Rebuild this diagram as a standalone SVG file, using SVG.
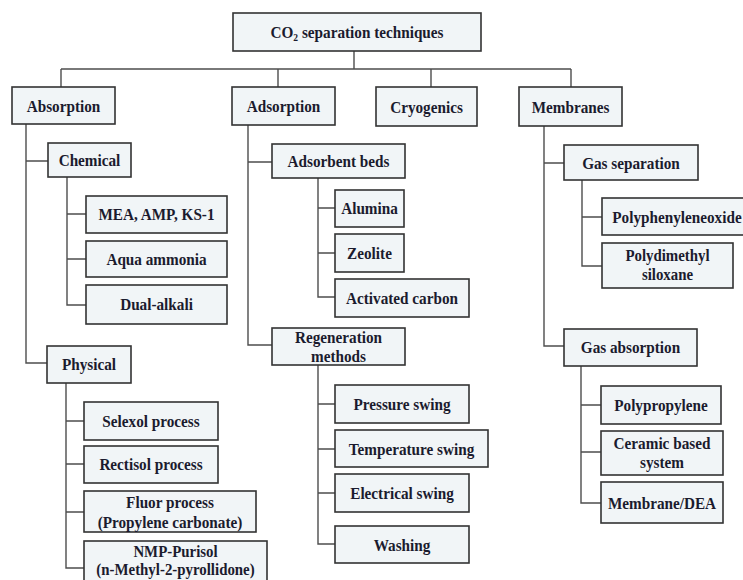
<svg xmlns="http://www.w3.org/2000/svg" width="743" height="580" viewBox="0 0 743 580">
<style>
.b{fill:#f1f5f7;stroke:#333;stroke-width:1.6}
.t{font-family:"Liberation Serif","Times New Roman",serif;font-weight:bold;font-size:17.5px;fill:#1b1b2e;text-anchor:middle}
.s{font-size:16px}
.c{fill:none;stroke:#4d4d4d;stroke-width:1.4}
</style>
<rect width="743" height="580" fill="#fff"/>
<g id="connectors" class="c">
<path d="M354 51V69M61 69H571M61 69V87M278 69V87M431 69V87M571 69V87"/>
<path d="M26 124V363H47M26 161H48"/>
<path d="M67 177V305H86M67 214H86M67 259H86"/>
<path d="M66 383V568H84M66 421H84M66 464H84M66 512H84"/>
<path d="M248 125V345H272M248 162H272"/>
<path d="M318 178V297H335M318 208H335M318 253H335"/>
<path d="M318 365V544H335M318 404H335M318 449H335M318 493H335"/>
<path d="M544 126V346H564M544 163H564"/>
<path d="M582 180V266H602M582 217H602"/>
<path d="M581 366V503H601M581 405H601M581 452H601"/>
</g>
<g id="root"><rect class="b" x="233" y="13" width="248" height="38"/><text class="t" transform="translate(357 38) scale(.87 1)">CO<tspan font-size="11" dy="3">2</tspan><tspan dy="-3"> separation techniques</tspan></text></g>
<g id="absorption"><rect class="b" x="12" y="87" width="103" height="37"/><text class="t" transform="translate(63.5 112) scale(.87 1)">Absorption</text></g>
<g id="adsorption"><rect class="b" x="232" y="87" width="103" height="38"/><text class="t" transform="translate(283.5 112) scale(.87 1)">Adsorption</text></g>
<g id="cryogenics"><rect class="b" x="376" y="87" width="101" height="39"/><text class="t" transform="translate(426.5 113) scale(.87 1)">Cryogenics</text></g>
<g id="membranes"><rect class="b" x="519" y="87" width="103" height="39"/><text class="t" transform="translate(570.5 113) scale(.87 1)">Membranes</text></g>
<g id="chemical"><rect class="b" x="48" y="143" width="83" height="34"/><text class="t" transform="translate(89.5 166) scale(.87 1)">Chemical</text></g>
<g id="mea"><rect class="b" x="86" y="196" width="141" height="37"/><text class="t" transform="translate(156.5 220) scale(.87 1)">MEA, AMP, KS-1</text></g>
<g id="aqua"><rect class="b" x="86" y="241" width="141" height="36"/><text class="t" transform="translate(156.5 265) scale(.87 1)">Aqua ammonia</text></g>
<g id="dual"><rect class="b" x="86" y="285" width="141" height="39"/><text class="t" transform="translate(156.5 310) scale(.87 1)">Dual-alkali</text></g>
<g id="physical"><rect class="b" x="47" y="346" width="84" height="37"/><text class="t" transform="translate(89 370) scale(.87 1)">Physical</text></g>
<g id="selexol"><rect class="b" x="84" y="402" width="134" height="38"/><text class="t" transform="translate(151 427) scale(.87 1)">Selexol process</text></g>
<g id="rectisol"><rect class="b" x="84" y="446" width="134" height="37"/><text class="t" transform="translate(151 470) scale(.87 1)">Rectisol process</text></g>
<g id="fluor"><rect class="b" x="84" y="491" width="172" height="41"/><text class="t" transform="translate(170 508) scale(.87 1)">Fluor process</text><text class="t" transform="translate(170 528) scale(.87 1)">(Propylene carbonate)</text></g>
<g id="nmp"><rect class="b" x="84" y="541" width="183" height="45"/><text class="t s" transform="translate(175.5 557) scale(.93 1)">NMP-Purisol</text><text class="t s" transform="translate(175.5 575) scale(.93 1)">(n-Methyl-2-pyrollidone)</text></g>
<g id="beds"><rect class="b" x="272" y="144" width="133" height="34"/><text class="t" transform="translate(338.5 167) scale(.87 1)">Adsorbent beds</text></g>
<g id="alumina"><rect class="b" x="335" y="190" width="69" height="37"/><text class="t" transform="translate(369.5 214) scale(.87 1)">Alumina</text></g>
<g id="zeolite"><rect class="b" x="335" y="234" width="69" height="38"/><text class="t" transform="translate(369.5 259) scale(.87 1)">Zeolite</text></g>
<g id="activated"><rect class="b" x="335" y="279" width="134" height="38"/><text class="t" transform="translate(402 304) scale(.87 1)">Activated carbon</text></g>
<g id="regen"><rect class="b" x="272" y="328" width="133" height="37"/><text class="t" transform="translate(338.5 343) scale(.87 1)">Regeneration</text><text class="t" transform="translate(338.5 362) scale(.87 1)">methods</text></g>
<g id="pressure"><rect class="b" x="335" y="385" width="134" height="38"/><text class="t" transform="translate(402 410) scale(.87 1)">Pressure swing</text></g>
<g id="temperature"><rect class="b" x="335" y="430" width="153" height="37"/><text class="t" transform="translate(411.5 454.5) scale(.87 1)">Temperature swing</text></g>
<g id="electrical"><rect class="b" x="335" y="474" width="134" height="38"/><text class="t" transform="translate(402 499) scale(.87 1)">Electrical swing</text></g>
<g id="washing"><rect class="b" x="335" y="526" width="134" height="37"/><text class="t" transform="translate(402 550.5) scale(.87 1)">Washing</text></g>
<g id="gassep"><rect class="b" x="564" y="145" width="134" height="35"/><text class="t" transform="translate(631 168.5) scale(.87 1)">Gas separation</text></g>
<g id="ppo"><rect class="b" x="602" y="198" width="150" height="37"/><text class="t" transform="translate(677 222.5) scale(.87 1)">Polyphenyleneoxide</text></g>
<g id="pdms"><rect class="b" x="602" y="243" width="131" height="45"/><text class="t s" transform="translate(667.5 261) scale(.93 1)">Polydimethyl</text><text class="t s" transform="translate(667.5 280) scale(.93 1)">siloxane</text></g>
<g id="gasabs"><rect class="b" x="564" y="329" width="133" height="37"/><text class="t" transform="translate(630.5 353) scale(.87 1)">Gas absorption</text></g>
<g id="pp"><rect class="b" x="601" y="386" width="120" height="38"/><text class="t" transform="translate(661 411) scale(.87 1)">Polypropylene</text></g>
<g id="ceramic"><rect class="b" x="601" y="431" width="122" height="44"/><text class="t" transform="translate(662 449) scale(.87 1)">Ceramic based</text><text class="t" transform="translate(662 468) scale(.87 1)">system</text></g>
<g id="dea"><rect class="b" x="601" y="482" width="122" height="41"/><text class="t" transform="translate(662 509) scale(.87 1)">Membrane/DEA</text></g>
</svg>
